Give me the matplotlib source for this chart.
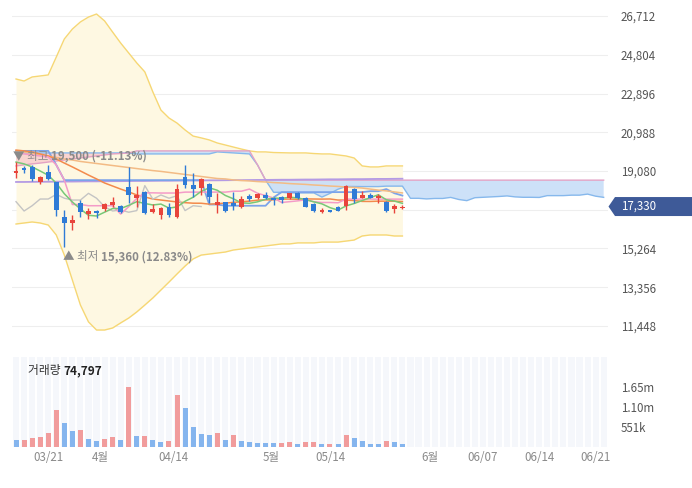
import numpy as np
import matplotlib
matplotlib.use("Agg")
import matplotlib.pyplot as plt
from matplotlib.patches import Polygon
from matplotlib.transforms import IdentityTransform

plt.rcParams['font.family'] = ['Noto Sans CJK KR', 'DejaVu Sans']

# ---- daily candles (3/17 .. 5/27) ----
opens = [18970, 19210, 19260, 18520, 19030, 18550, 16800, 16530, 17490, 16960,
         17110, 17210, 17410, 17360, 18280, 17730, 18060, 17040, 16910, 17330,
         16830, 18770, 18390, 18230, 18430, 17410, 17530, 17520, 17320, 17860,
         17770, 17900, 17770, 17800, 17740, 17980, 17730, 17440, 17050, 17160,
         17320, 17370, 18190, 17770, 17900, 17740, 17570, 17210, 17240]
highs = [19500, 19330, 19380, 18830, 19380, 18560, 17160, 16910, 17650, 17240,
         17160, 17490, 17790, 17410, 19290, 18340, 18110, 17460, 17310, 17520,
         18440, 19380, 18970, 18740, 18500, 18000, 17570, 18060, 17850, 17930,
         17980, 18060, 17820, 17850, 18010, 18030, 17790, 17490, 17270, 17180,
         17370, 18390, 18230, 18100, 17980, 17950, 17600, 17440, 17410]
lows = [18720, 19000, 18600, 18440, 18640, 16860, 15360, 16180, 16830, 16720,
        16770, 17110, 17320, 17000, 17500, 17330, 16960, 17000, 16700, 16800,
        16790, 18220, 17800, 17900, 17490, 17000, 17080, 17160, 17270, 17620,
        17700, 17700, 17410, 17520, 17700, 17700, 17290, 17080, 17000, 17040,
        17110, 17160, 17490, 17740, 17740, 17490, 17080, 17000, 17210]
closes = [19100, 19110, 18700, 18770, 18670, 17160, 16500, 16670, 17050, 17110,
          16990, 17440, 17570, 17040, 17900, 17900, 16990, 17210, 17260, 16910,
          18180, 18390, 18190, 18710, 17800, 17570, 17110, 17370, 17700, 17700,
          17930, 17740, 17650, 17650, 17980, 17740, 17320, 17110, 17160, 17050,
          17130, 18360, 17690, 17900, 17740, 17860, 17130, 17370, 17330]
volumes = [180000, 190000, 230000, 257000, 367000, 1010000, 661000, 432000, 459000, 212000,
           156000, 212000, 257000, 185000, 1640000, 290000, 300000, 185000, 121000, 156000,
           1420000, 1060000, 534000, 349000, 313000, 368000, 185000, 322000, 156000, 121000,
           115000, 94000, 90000, 95000, 129000, 66000, 129000, 133000, 66000, 70000,
           66000, 322000, 230000, 156000, 66000, 63000, 156000, 129000, 74797]

# ---- Bollinger band ----
bb_upper = [23610, 23510, 23710, 23760, 23810, 24690, 25580, 26070, 26420, 26660,
            26810, 26470, 25920, 25380, 24890, 24400, 23960, 22970, 22080, 21690,
            21440, 21100, 20800, 20710, 20610, 20460, 20360, 20260, 20160, 20070,
            20020, 20020, 19990, 19980, 19970, 19970, 19970, 19940, 19920, 19920,
            19870, 19820, 19720, 19330, 19280, 19280, 19330, 19330, 19330]
bb_lower = [16470, 16520, 16570, 16520, 16420, 15930, 14940, 13710, 12480, 11650,
            11250, 11250, 11350, 11600, 11840, 12140, 12480, 12830, 13220, 13610,
            14010, 14400, 14750, 14940, 14990, 15040, 15090, 15190, 15240, 15290,
            15340, 15390, 15440, 15490, 15490, 15540, 15540, 15540, 15580, 15580,
            15580, 15630, 15680, 15880, 15930, 15930, 15930, 15880, 15880]

# ---- moving averages (values before enough history are listed directly) ----
ma5_head = [19520, 19430, 19280, 19080]
ma20_head = [20110, 20070, 20020, 19920, 19820, 19670, 19470, 19280, 19080, 18880,
             18690, 18490, 18340, 18190, 18050, 17900, 17800, 17700, 17650]
ma60 = [20070, 20020, 19940, 19870, 19820, 19750, 19670, 19620, 19550, 19500,
        19450, 19400, 19350, 19300, 19250, 19200, 19150, 19100, 19060, 19010,
        18960, 18910, 18860, 18810, 18760, 18710, 18690, 18640, 18610, 18590,
        18560, 18540, 18510, 18490, 18460, 18440, 18420, 18390, 18370, 18340,
        18320, 18290, 18270, 18240, 18190, 18140, 18100, 18050, 18000]
ma120 = [18540, 18540, 18545, 18550, 18550, 18555, 18560, 18560, 18565, 18570,
         18570, 18575, 18580, 18580, 18585, 18590, 18590, 18595, 18600, 18600,
         18605, 18610, 18610, 18615, 18620, 18620, 18625, 18630, 18630, 18635,
         18640, 18640, 18645, 18650, 18650, 18655, 18660, 18660, 18665, 18670,
         18670, 18675, 18680, 18680, 18685, 18690, 18690, 18695, 18700]

# ---- Ichimoku ----
tenkan_head = [19970, 19920, 19870, 19820, 19770, 19380, 18630, 17430]
kijun_head = [20070, 20070, 20070, 20070, 20070, 19380, 18630, 18630, 18630, 18630,
              18630, 18630, 18630, 18630, 18630, 18630, 18630, 18630, 18630, 18630,
              18630, 18630, 18630, 18630, 17430]
span_a_head = [19970, 19970, 19970, 19970, 19970, 19970, 19970, 19970, 19970, 19970,
               19970, 19970, 19970, 19970, 19970, 19920, 19920, 19920, 19920, 19920,
               19920, 19920, 19920, 19920, 19920]
span_b = [19330, 19380, 19430, 19470, 19520, 19570, 19620, 19670, 19720, 19770,
          19820, 19870, 19920, 19940, 19970, 20070, 20070, 20070, 20070, 20070,
          20070, 20070, 20070, 20070, 20070, 20070, 20070, 20070, 20070, 20070,
          19380, 18630, 18630, 18630, 18630, 18630, 18630, 18630, 18630, 18630,
          18630, 18630, 18630, 18630, 18630, 18630, 18630, 18630, 18630, 18630,
          18630, 18630, 18630, 18630, 18630, 18630, 18630, 18630, 18630, 18630,
          18630, 18630, 18630, 18630, 18630, 18630, 18630, 18630, 18630, 18630,
          18630, 18630, 18630, 18630]
displacement = 25

# ---- axes labels ----
price_ticks = [26712, 24804, 22896, 20988, 19080, 17172, 15264, 13356, 11448]
vol_ticks = [551000, 1102000, 1653000]
vol_tick_labels = ['551k', '1.10m', '1.65m']
x_tick_pos = [4, 10.5, 19.6, 31.7, 39, 51.4, 58, 65, 72]
x_tick_labels = ['03/21', '4월', '04/14', '5월', '05/14', '6월', '06/07', '06/14', '06/21']

n = len(closes)


def moving_avg(vals, win, head):
    out = list(head)
    for i in range(len(head), n):
        out.append(float(np.mean(vals[i - win + 1:i + 1])))
    return np.array(out)


def mid_range(win, head):
    out = list(head)
    for i in range(len(head), n):
        out.append((max(highs[i - win + 1:i + 1]) + min(lows[i - win + 1:i + 1])) / 2)
    return np.array(out)


ma5 = moving_avg(closes, 5, ma5_head)
ma20 = moving_avg(closes, 20, ma20_head)
tenkan = mid_range(9, tenkan_head)
kijun = mid_range(26, kijun_head)
span_a = np.array(list(span_a_head) + list((tenkan + kijun) / 2))
span_b = np.array(span_b)
chikou = np.array(closes[displacement:])
n_slots = len(span_b)

x = np.arange(n)
xs = np.arange(n_slots)

# ---- figure ----
W, H = 692, 488
fig = plt.figure(figsize=(W / 100, H / 100), dpi=100, facecolor='white')
left_px, right_px = 12, 607.7
ax = fig.add_axes([left_px / W, 1 - 345 / H, (right_px - left_px) / W, 345 / H])
axv = fig.add_axes([left_px / W, 1 - 446.7 / H, (right_px - left_px) / W, (446.7 - 357) / H])

ax.set_xlim(-0.5, n_slots - 0.5)
ax.set_ylim(27500 - 49.24 * 345, 27500)
axv.set_xlim(-0.5, n_slots - 0.5)
axv.set_ylim(0, 2.47e6)

for a in (ax, axv):
    for s in a.spines.values():
        s.set_visible(False)
    a.set_facecolor('none')

for p in price_ticks:
    ax.axhline(p, color='#eeeeee', lw=0.8, zorder=0)

# Bollinger band
ax.fill_between(x, bb_lower, bb_upper, color='#fef8e2', lw=0, zorder=1)
ax.plot(x, bb_upper, color='#f6d774', lw=1.0, zorder=1.2)
ax.plot(x, bb_lower, color='#f6d774', lw=1.0, zorder=1.2)

# cloud
ax.fill_between(xs, span_a, span_b, where=span_a >= span_b, interpolate=True,
                color='#f8cccc', alpha=0.8, lw=0, zorder=1.4)
ax.fill_between(xs, span_a, span_b, where=span_a < span_b, interpolate=True,
                color='#c8def8', alpha=0.9, lw=0, zorder=1.4)
ax.plot(xs, span_a, color='#86b8ec', lw=1.0, zorder=1.6)
ax.plot(xs, span_b, color='#e4a2c4', lw=1.0, zorder=1.6)

# lines
ax.plot(x, ma120, color='#b49be4', lw=1.3, zorder=2)
ax.plot(x, kijun, color='#7ba3ea', lw=1.3, zorder=2)
ax.plot(x, ma60, color='#f3bb85', lw=1.1, zorder=2)
ax.plot(x, ma20, color='#f38a4c', lw=1.1, zorder=2)
ax.plot(np.arange(len(chikou)), chikou, color='#c4c4c4', lw=1.0, zorder=2)
ax.plot(x, tenkan, color='#f49bc8', lw=1.1, zorder=2)
ax.plot(x, ma5, color='#78c878', lw=1.1, zorder=2.1)

# candles
up_c, dn_c = '#e8453c', '#2f7bd6'
o = np.array(opens); c = np.array(closes)
cols = [up_c if cc >= oo else dn_c for oo, cc in zip(o, c)]
ax.vlines(x, lows, highs, colors=cols, lw=1.0, zorder=3)
body_lo = np.minimum(o, c)
body_h = np.maximum(np.abs(c - o), 25)
ax.bar(x, body_h, bottom=body_lo, width=0.6, color=cols, lw=0, zorder=3.1)

# high / low markers
i_hi = int(np.argmax(highs)); i_lo = int(np.argmin(lows))
last = closes[-1]
hi_txt = ax.annotate('▼ 최고 ', xy=(i_hi, highs[i_hi]), xytext=(-2.5, 4.5),
                     textcoords='offset points', ha='left', va='center',
                     fontsize=8.3, color='#8a8a8a', zorder=5)
ax.annotate(f"{highs[i_hi]:,} ({(last / highs[i_hi] - 1) * 100:.2f}%)",
            xy=(1, 0.5), xycoords=hi_txt, ha='left', va='center',
            fontsize=8.3, color='#8a8a8a', fontweight='bold', zorder=5)
lo_txt = ax.annotate('▲ 최저 ', xy=(i_lo, lows[i_lo]), xytext=(-1, -7.5),
                     textcoords='offset points', ha='left', va='center',
                     fontsize=8.3, color='#8a8a8a', zorder=5)
ax.annotate(f"{lows[i_lo]:,} ({(last / lows[i_lo] - 1) * 100:.2f}%)",
            xy=(1, 0.5), xycoords=lo_txt, ha='left', va='center',
            fontsize=8.3, color='#8a8a8a', fontweight='bold', zorder=5)

# price axis; the label sitting under the last-price tag is left blank
px_per_won = 345 / (49.24 * 345)
ax.set_xticks([])
ax.yaxis.tick_right()
ax.set_yticks(price_ticks, [f"{p:,}" if abs(p - last) * px_per_won > 12 else ''
                            for p in price_ticks])
ax.tick_params(axis='y', length=0, pad=9.6, labelsize=8.3, labelcolor='#555555')

# volume pane
axv.bar(xs, [axv.get_ylim()[1]] * n_slots, width=0.76, color='#f5f7fb', lw=0, zorder=0)
vcols = ['#85b5ee'] + ['#f19c9c' if volumes[i] > volumes[i - 1] else '#85b5ee'
                       for i in range(1, n)]
axv.bar(x, volumes, width=0.62, color=vcols, lw=0, zorder=2)
axv.yaxis.tick_right()
axv.set_yticks(vol_ticks, vol_tick_labels)
axv.tick_params(axis='y', length=0, pad=9.6, labelsize=8.3, labelcolor='#555555')
axv.set_xticks(x_tick_pos, x_tick_labels)
axv.tick_params(axis='x', length=0, pad=3, labelsize=8.3, labelcolor='#8a8a8a')

vt = fig.text(28 / W, 1 - 370.7 / H, '거래량 ', ha='left', va='center',
              fontsize=8.5, color='#333333')
axv.annotate(f"{volumes[-1]:,}", xy=(1, 0.5), xycoords=vt, ha='left', va='center',
             fontsize=8.5, color='#222222', fontweight='bold')

# last price tag
yc = ax.transData.transform((0, last))[1]
hh = 9.5
tag = Polygon([(608.5, yc), (615, yc + hh), (W, yc + hh), (W, yc - hh), (615, yc - hh)],
              closed=True, facecolor='#3e5a98', edgecolor='none',
              transform=IdentityTransform(), zorder=10)
fig.add_artist(tag)
fig.text(621, yc, f"{last:,}", transform=IdentityTransform(), ha='left', va='center',
         fontsize=8.3, color='white', zorder=11)

fig.savefig('out.png', dpi=100, facecolor='white')
